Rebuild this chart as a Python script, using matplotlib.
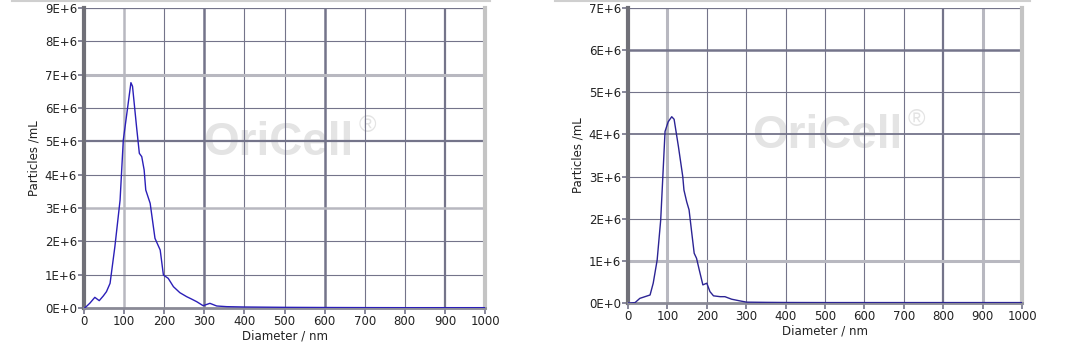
import matplotlib
matplotlib.use("Agg")
import matplotlib.pyplot as plt
from matplotlib.lines import Line2D

# ------------------------------
# Data read off the two NTA size distributions
# ------------------------------
diam_a = [0, 2, 15, 27, 38, 48, 56, 65, 77, 90, 98, 108, 117, 121, 131, 138, 144, 150,
          154, 165, 177, 190, 198, 210, 223, 239, 256, 268, 281, 297, 314, 331, 356,
          400, 450, 500, 600, 700, 800, 900, 1000]
part_a = [0.0, 0.0, 0.15e6, 0.32e6, 0.22e6, 0.36e6, 0.49e6, 0.74e6, 1.84e6, 3.24e6,
          5.04e6, 5.94e6, 6.76e6, 6.65e6, 5.44e6, 4.64e6, 4.54e6, 4.14e6, 3.54e6,
          3.14e6, 2.09e6, 1.74e6, 0.99e6, 0.89e6, 0.64e6, 0.46e6, 0.34e6, 0.27e6,
          0.19e6, 0.07e6, 0.14e6, 0.06e6, 0.04e6, 0.03e6, 0.025e6, 0.02e6, 0.015e6,
          0.012e6, 0.01e6, 0.01e6, 0.01e6]

diam_b = [0, 5, 18, 30, 56, 64, 74, 83, 88, 94, 102, 111, 117, 128, 139, 142, 149, 155,
          162, 168, 174, 181, 190, 200, 208, 217, 234, 246, 263, 284, 301, 350, 400,
          500, 600, 700, 800, 900, 1000]
part_b = [0.0, 0.0, 0.01e6, 0.11e6, 0.19e6, 0.47e6, 1.02e6, 1.97e6, 2.92e6, 4.07e6,
          4.30e6, 4.42e6, 4.36e6, 3.71e6, 3.00e6, 2.68e6, 2.40e6, 2.21e6, 1.65e6,
          1.18e6, 1.06e6, 0.78e6, 0.43e6, 0.47e6, 0.27e6, 0.17e6, 0.15e6, 0.15e6,
          0.09e6, 0.05e6, 0.02e6, 0.015e6, 0.012e6, 0.01e6, 0.01e6, 0.01e6, 0.01e6,
          0.01e6, 0.01e6]

x_ticks = [0, 100, 200, 300, 400, 500, 600, 700, 800, 900, 1000]
y_ticks_a = [0, 1e6, 2e6, 3e6, 4e6, 5e6, 6e6, 7e6, 8e6, 9e6]
y_ticks_b = [0, 1e6, 2e6, 3e6, 4e6, 5e6, 6e6, 7e6]

DARK = "#74748a"
LIGHT = "#b8b8c0"
FS = 8.5

fig = plt.figure(figsize=(10.8, 3.6), dpi=100)


def px(x, y):
    return x / 1080, 1 - y / 360


def panel(rect, diam, part, yticks, heavy_v, heavy_h, color, mark):
    ax = fig.add_axes(rect)
    ax.set_xlim(0, 1000)
    ax.set_ylim(0, yticks[-1])
    # grid: thin lines, a few heavier ones like the instrument plot
    for v in x_ticks[1:-1]:
        c, w = heavy_v.get(v, (DARK, 0.8))
        ax.axvline(v, color=c, lw=w, zorder=1)
    for h in yticks[1:]:
        c, w = heavy_h.get(h, (DARK, 0.8))
        ax.axhline(h, color=c, lw=w, zorder=1)
    ax.plot(diam, part, color=color, lw=1.0, zorder=3)

    # OriCell watermark sits under the grid
    (wx, wy), (rx, ry) = mark
    ax.text(*px(wx, wy), "OriCell", fontsize=33, fontweight="bold", color="#e4e4e4",
            family="Liberation Sans", ha="left", va="baseline", zorder=0.5,
            transform=fig.transFigure)
    ax.text(*px(rx, ry), "\u00ae", fontsize=17, color="#e4e4e4",
            family="Liberation Sans", ha="left", va="baseline", zorder=0.5,
            transform=fig.transFigure)

    ax.set_xticks(x_ticks)
    ax.set_yticks(yticks)
    ax.set_yticklabels(["%dE+%d" % (t / 1e6, 6) if t else "0E+0" for t in yticks])
    ax.tick_params(direction="out", length=4, width=1.2, color=DARK,
                   labelsize=FS, labelcolor="#222222", pad=1)
    ax.spines["top"].set_visible(False)
    ax.spines["left"].set_color("#707078")
    ax.spines["left"].set_linewidth(3)
    ax.spines["bottom"].set_color("#8a8a96")
    ax.spines["bottom"].set_linewidth(2)
    ax.spines["right"].set_color("#c4c4c4")
    ax.spines["right"].set_linewidth(3)
    ax.set_xlabel("Diameter / nm", fontsize=FS, color="#222222", labelpad=1)
    ax.set_ylabel("Particles /mL", fontsize=FS, color="#222222", labelpad=3)
    return ax


panel([84 / 1080, 1 - 308 / 360, 401 / 1080, 300 / 360], diam_a, part_a, y_ticks_a,
      {100: (LIGHT, 1.8), 300: (DARK, 1.8), 600: (DARK, 1.8), 900: (DARK, 1.6)},
      {7e6: (LIGHT, 2.2), 3e6: (LIGHT, 1.8), 5e6: (DARK, 1.6), 9e6: (DARK, 1.6)},
      "#2b1fb8", ((203, 155), (359, 132)))
panel([628 / 1080, 1 - 303 / 360, 394 / 1080, 295 / 360], diam_b, part_b, y_ticks_b,
      {100: (LIGHT, 2.2), 800: (DARK, 1.6), 900: (LIGHT, 2.2)},
      {6e6: (DARK, 1.8), 1e6: (LIGHT, 2.2), 4e6: (DARK, 1.3), 7e6: (DARK, 1.6)},
      "#2c2494", ((752, 148), (908, 126)))

# thin frame lines at the very top of each panel
for x0, x1 in [(12, 490), (555, 1030)]:
    fig.add_artist(Line2D([x0 / 1080, x1 / 1080], [0.998, 0.998], color="#cfcfcf", lw=1.5))

fig.savefig("out.png", dpi=100)
